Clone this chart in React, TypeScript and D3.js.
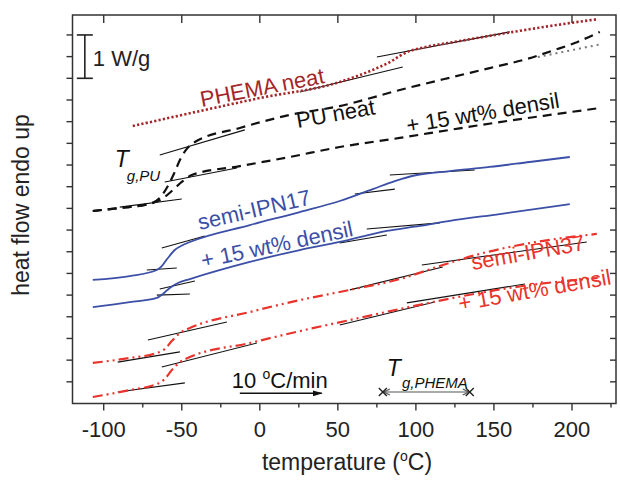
import React from "react";
import * as d3 from "d3";

const WIDTH = 620;
const HEIGHT = 485;
const FRAME = { left: 72.5, right: 616, top: 15, bottom: 403.5 };
const FONT = "'Liberation Sans', Arial, sans-serif";

// axis ticks
const xMajorTicks = [-100, -50, 0, 50, 100, 150, 200];
const xMinorTicks = [-75, -25, 25, 75, 125, 175, 225];
const yTicks = [1, 2, 3, 4, 5, 6, 7, 8, 9, 10, 11, 12, 13, 14, 15, 16, 17];

// DSC traces: temperature (°C) and heat flow (arbitrary units, 2 units = 1 W/g)
const phemaTemp = [-81.4, -38.4, 0, 51.2, 75.0, 83.3, 89.7, 96.1, 100.6, 128.1, 158.2, 185.8, 216.5];
const phemaFlow = [12.8, 13.49, 14.09, 14.83, 15.47, 15.75, 16.03, 16.26, 16.35, 16.72, 17.09, 17.41, 17.73];

const puTemp = [-107, -89.7, -70.5, -64.1, -58.9, -54.5, -51.2, -47.4, -41.6, -12.8, 19.2, 51.2, 89.7, 123.6, 147.3, 171.0, 189.0, 201.8, 217.8];
const puFlow = [8.88, 9.02, 9.21, 9.48, 10.03, 10.68, 11.23, 11.69, 12.06, 12.71, 13.31, 13.72, 14.46, 15.06, 15.47, 15.89, 16.31, 16.63, 17.14];

const puDensilTemp = [-107, -89.7, -70.5, -62.8, -56.4, -50.0, -43.6, -12.8, 19.2, 51.2, 89.7, 121.7, 153.7, 185.8, 217.8];
const puDensilFlow = [8.88, 9.02, 9.21, 9.43, 9.8, 10.22, 10.54, 10.95, 11.37, 11.83, 12.25, 12.62, 12.98, 13.31, 13.63];

const ipn17Temp = [-107, -83.3, -66.0, -62.8, -58.9, -54.5, -49.3, -44.8, -6.4, 25.6, 51.2, 72.4, 86.5, 100.6, 121.7, 147.3, 172.9, 198.6];
const ipn17Flow = [5.7, 5.88, 6.16, 6.34, 6.71, 7.08, 7.31, 7.45, 8.23, 8.83, 9.34, 9.89, 10.26, 10.54, 10.72, 10.91, 11.14, 11.37];

const ipn17DensilTemp = [-107, -83.3, -66.0, -62.1, -57.7, -52.5, -44.8, -6.4, 25.6, 51.2, 81.4, 102.5, 121.7, 153.7, 198.6];
const ipn17DensilFlow = [4.45, 4.68, 4.87, 5.05, 5.33, 5.56, 5.74, 6.53, 7.08, 7.45, 7.96, 8.19, 8.42, 8.74, 9.2];

const ipn37Temp = [-107, -83.3, -66.0, -60.9, -56.4, -51.2, -44.8, -6.4, 25.6, 57.7, 89.7, 115.3, 140.9, 173.0, 215.9];
const ipn37Flow = [1.87, 2.1, 2.33, 2.51, 2.88, 3.25, 3.48, 4.22, 4.77, 5.24, 5.74, 6.34, 6.9, 7.4, 7.82];

const ipn37DensilTemp = [-107, -83.3, -66.0, -60.9, -56.4, -51.2, -44.8, -6.4, 25.6, 57.7, 89.7, 110.8, 140.9, 168.5, 216.5];
const ipn37DensilFlow = [0.3, 0.62, 0.9, 1.13, 1.54, 1.91, 2.14, 2.79, 3.34, 3.85, 4.36, 4.68, 5.1, 5.42, 5.79];

// tangent constructions [T1, flow1, T2, flow2]
const tangents = [
  [75.0, 15.98, 160.2, 17.14],
  [25.6, 14.37, 91.6, 15.52],
  [-64.1, 11.46, -9.6, 12.62],
  [-89.7, 9.06, -50.0, 9.43],
  [-60.9, 10.22, -14.7, 10.86],
  [-62.8, 7.17, -35.2, 7.73],
  [-72.4, 6.16, -53.2, 6.25],
  [83.3, 10.54, 137.7, 10.77],
  [60.9, 9.66, 86.5, 9.89],
  [-64.1, 5.28, -41.6, 5.65],
  [-66.0, 5.0, -44.8, 5.05],
  [68.5, 8.05, 115.3, 8.33],
  [51.2, 7.4, 81.4, 7.77],
  [-71.7, 2.93, -21.1, 3.76],
  [-91.0, 1.91, -51.2, 2.38],
  [103.8, 6.39, 209.5, 7.45],
  [57.7, 5.24, 117.2, 6.3],
  [-62.8, 1.68, -1.9, 2.79],
  [-91.0, 0.53, -48.0, 0.95],
  [94.2, 4.64, 169.8, 5.51],
  [51.2, 3.62, 112.1, 4.68],
];

// extrapolated PU baseline (dotted grey)
const puBaseTemp = [178.1, 219.1];
const puBaseFlow = [15.98, 16.58];

const RED_DARK = "#a3262a";
const BLUE = "#3b4fa6";
const RED = "#e8342c";

const series = [
  { temp: phemaTemp, flow: phemaFlow, color: RED_DARK, width: 2.6, dash: "2.2,2.2" },
  { temp: puTemp, flow: puFlow, color: "#111", width: 2.2, dash: "9,6" },
  { temp: puDensilTemp, flow: puDensilFlow, color: "#111", width: 2.2, dash: "9,6" },
  { temp: ipn17Temp, flow: ipn17Flow, color: BLUE, width: 1.8, dash: null },
  { temp: ipn17DensilTemp, flow: ipn17DensilFlow, color: BLUE, width: 1.8, dash: null },
  { temp: ipn37Temp, flow: ipn37Flow, color: RED, width: 2.2, dash: "10,4,2,4,2,4" },
  { temp: ipn37DensilTemp, flow: ipn37DensilFlow, color: RED, width: 2.2, dash: "10,4,2,4,2,4" },
];

const App = () => {
  const x = d3.scaleLinear().domain([-120, 228.2]).range([FRAME.left, FRAME.right]);
  const y = d3.scaleLinear().domain([0, 17.92]).range([FRAME.bottom, FRAME.top]);

  const line = d3
    .line<[number, number]>()
    .x((d) => x(d[0]))
    .y((d) => y(d[1]))
    .curve(d3.curveMonotoneX);

  const rotText = (t: number, v: number, angle: number) =>
    `translate(${x(t)},${y(v)}) rotate(${angle})`;

  const cross = (t: number, v: number, key: string) => {
    const cx = x(t);
    const cy = y(v);
    return (
      <g key={key} stroke="#222" strokeWidth={1.4}>
        <line x1={cx - 4} y1={cy - 4} x2={cx + 4} y2={cy + 4} />
        <line x1={cx - 4} y1={cy + 4} x2={cx + 4} y2={cy - 4} />
      </g>
    );
  };

  return (
    <svg
      width={WIDTH}
      height={HEIGHT}
      style={{ position: "absolute", left: 0, top: 0, background: "#fff" }}
      fontFamily={FONT}
    >
      <defs>
        <marker id="arrowHead" viewBox="0 0 10 6" refX="9" refY="3" markerWidth="10" markerHeight="6" orient="auto" markerUnits="userSpaceOnUse">
          <path d="M0,0 L10,3 L0,6 Z" fill="#111" />
        </marker>
      </defs>

      {/* tangents */}
      <g stroke="#111" strokeWidth={1.1}>
        {tangents.map((s, i) => (
          <line key={i} x1={x(s[0])} y1={y(s[1])} x2={x(s[2])} y2={y(s[3])} />
        ))}
      </g>

      {/* traces */}
      {series.map((s, i) => (
        <path
          key={i}
          d={line(s.temp.map((t, j) => [t, s.flow[j]] as [number, number])) || ""}
          fill="none"
          stroke={s.color}
          strokeWidth={s.width}
          strokeDasharray={s.dash || undefined}
        />
      ))}
      <path
        d={line(puBaseTemp.map((t, j) => [t, puBaseFlow[j]] as [number, number])) || ""}
        fill="none"
        stroke="#777"
        strokeWidth={2}
        strokeDasharray="2,4"
      />

      {/* frame */}
      <rect
        x={FRAME.left}
        y={FRAME.top}
        width={FRAME.right - FRAME.left}
        height={FRAME.bottom - FRAME.top}
        fill="none"
        stroke="#333"
        strokeWidth={1.5}
      />
      <g stroke="#333" strokeWidth={1.4}>
        {xMajorTicks.map((t) => (
          <g key={"xm" + t}>
            <line x1={x(t)} x2={x(t)} y1={FRAME.bottom} y2={FRAME.bottom + 7} />
            <line x1={x(t)} x2={x(t)} y1={FRAME.top} y2={FRAME.top + 8} />
          </g>
        ))}
        {xMinorTicks.map((t) => (
          <line key={"xn" + t} x1={x(t)} x2={x(t)} y1={FRAME.bottom} y2={FRAME.bottom + 4} />
        ))}
        {yTicks.map((v) => (
          <g key={"y" + v}>
            <line x1={FRAME.left - 6} x2={FRAME.left} y1={y(v)} y2={y(v)} />
            <line x1={FRAME.right - 6} x2={FRAME.right} y1={y(v)} y2={y(v)} />
          </g>
        ))}
      </g>
      <g fontSize={22} fill="#222" textAnchor="middle">
        {xMajorTicks.map((t) => (
          <text key={"xl" + t} x={x(t)} y={FRAME.bottom + 33}>
            {t}
          </text>
        ))}
      </g>

      {/* axis titles */}
      <text x={347} y={470} fontSize={23} textAnchor="middle" fill="#222">
        temperature (<tspan fontSize={14} dy={-9}>o</tspan>
        <tspan dy={9}>C)</tspan>
      </text>
      <text transform="translate(29,205) rotate(-90)" fontSize={23} textAnchor="middle" fill="#222">
        heat flow endo up
      </text>

      {/* scale bar */}
      <g stroke="#222" strokeWidth={1.6}>
        <line x1={x(-112.1)} x2={x(-112.1)} y1={y(15)} y2={y(17)} />
        <line x1={x(-112.1) - 8} x2={x(-112.1) + 8} y1={y(15)} y2={y(15)} />
        <line x1={x(-112.1) - 8} x2={x(-112.1) + 8} y1={y(17)} y2={y(17)} />
      </g>
      <text x={x(-107)} y={y(15.57)} fontSize={22} fill="#222">
        1 W/g
      </text>

      {/* curve labels */}
      <g fontSize={22}>
        <text transform={rotText(-37.2, 13.68, -11)} fill={RED_DARK}>PHEMA neat</text>
        <text transform={rotText(24.3, 12.71, -10)} fill="#111">PU neat</text>
        <text transform={rotText(94.8, 12.48, -9.5)} fill="#111">+ 15 wt% densil</text>
        <text transform={rotText(-38.4, 8.0, -13)} fill={BLUE}>semi-IPN17</text>
        <text transform={rotText(-36.5, 6.25, -12)} fill={BLUE}>+ 15 wt% densil</text>
        <text transform={rotText(136.4, 6.16, -10)} fill={RED}>semi-IPN37</text>
        <text transform={rotText(128.1, 4.27, -10)} fill={RED}>+ 15 wt% densil</text>
      </g>

      {/* Tg labels */}
      <text x={x(-92.9)} y={y(10.91)} fontSize={23} fontStyle="italic" fill="#111">
        T<tspan fontSize={15} dx={-2} dy={14}>g,PU</tspan>
      </text>
      <text x={x(81.4)} y={y(1.27)} fontSize={23} fontStyle="italic" fill="#111">
        T<tspan fontSize={15} dx={1} dy={12}>g,PHEMA</tspan>
      </text>

      {/* Tg,PHEMA range */}
      <g stroke="#555" strokeWidth={1.2} fill="none">
        <line x1={x(78.8)} x2={x(134.5)} y1={y(0.53)} y2={y(0.53)} />
        <path d={`M${x(78.8) + 7},${y(0.53) - 3} L${x(78.8) + 1},${y(0.53)} L${x(78.8) + 7},${y(0.53) + 3}`} />
        <path d={`M${x(134.5) - 7},${y(0.53) - 3} L${x(134.5) - 1},${y(0.53)} L${x(134.5) - 7},${y(0.53) + 3}`} />
      </g>
      {cross(78.8, 0.53, "c1")}
      {cross(134.5, 0.53, "c2")}

      {/* heating rate */}
      <text x={x(-17.9)} y={y(0.71)} fontSize={22} fill="#111">
        10 <tspan fontSize={14} dy={-9}>o</tspan>
        <tspan dy={9}>C/min</tspan>
      </text>
      <line
        x1={x(-12.8)}
        x2={x(39.7)}
        y1={y(0.47)}
        y2={y(0.47)}
        stroke="#111"
        strokeWidth={1.4}
        markerEnd="url(#arrowHead)"
      />
    </svg>
  );
};

export default App;
